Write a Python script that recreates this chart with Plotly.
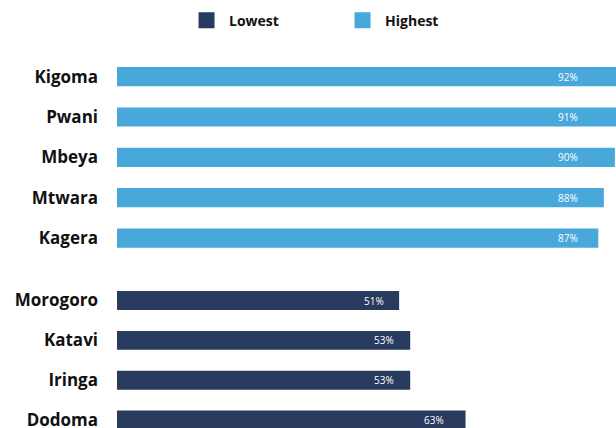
import plotly.graph_objects as go

# Data
high_regions = ["Kigoma", "Pwani", "Mbeya", "Mtwara", "Kagera"]
high_values = [92, 91, 90, 88, 87]
low_regions = ["Morogoro", "Katavi", "Iringa", "Dodoma"]
low_values = [51, 53, 53, 63]

NAVY = "#283a5e"
BLUE = "#49a8da"
FONT = "Open Sans"

fig = go.Figure()
fig.add_trace(go.Bar(
    y=low_regions, x=low_values, orientation="h", name="Lowest", showlegend=False,
    marker=dict(color=NAVY, line=dict(width=0)), xaxis="x", yaxis="y2",
    hoverinfo="skip",
))
fig.add_trace(go.Bar(
    y=high_regions, x=high_values, orientation="h", name="Highest", showlegend=False,
    marker=dict(color=BLUE, line=dict(width=0)), xaxis="x", yaxis="y",
    hoverinfo="skip",
))
# legend entries (square swatches)
for name, col in [("Lowest", NAVY), ("Highest", BLUE)]:
    fig.add_trace(go.Scatter(x=[None], y=[None], mode="markers", name=name,
                             marker=dict(symbol="square", size=16, color=col),
                             xaxis="x", yaxis="y", hoverinfo="skip"))

annotations = []
for r, v in zip(high_regions, high_values):
    annotations.append(dict(x=81.5, y=r, xref="x", yref="y", text=f"{v}%",
                            showarrow=False, font=dict(family=FONT, size=10, color="white")))
for r, v in zip(low_regions, low_values):
    annotations.append(dict(x=v * 0.91, y=r, xref="x", yref="y2", text=f"{v}%",
                            showarrow=False, font=dict(family=FONT, size=10, color="white")))

tickfont = dict(family=FONT, size=17, color="#111111", weight=700)

fig.update_layout(
    width=616, height=428,
    margin=dict(l=117, r=0, t=0, b=0, autoexpand=False),
    paper_bgcolor="white", plot_bgcolor="white",
    bargap=0.525,
    showlegend=True,
    legend=dict(orientation="h", xref="container", yref="container",
                x=0.552, y=0.952, xanchor="center", yanchor="middle",
                font=dict(family=FONT, size=14, color="#111111", weight=700),
                itemsizing="trace", itemwidth=35,
                entrywidth=106, entrywidthmode="pixels", traceorder="normal"),
    xaxis=dict(range=[0, 90.2], domain=[0, 1], visible=False, fixedrange=True),
    yaxis=dict(domain=[0.3967, 0.868], range=[4.5, -0.5], type="category",
               categoryorder="array", categoryarray=high_regions,
               showgrid=False, zeroline=False, showline=False, ticks="",
               ticklabelstandoff=18, tickfont=tickfont, anchor="x"),
    yaxis2=dict(domain=[0, 0.3444], range=[3.2, -0.5], type="category",
                categoryorder="array", categoryarray=low_regions,
                showgrid=False, zeroline=False, showline=False, ticks="",
                ticklabelstandoff=18, tickfont=tickfont, anchor="x"),
    annotations=annotations,
)

fig.write_html("out.html", config={"displayModeBar": False})
